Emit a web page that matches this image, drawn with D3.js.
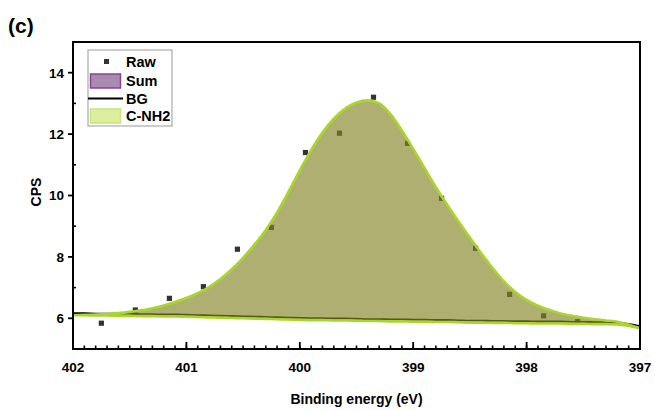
<!DOCTYPE html>
<html>
<head>
<meta charset="utf-8">
<script src="https://cdn.jsdelivr.net/npm/d3@7"></script>
<style>
  html, body { margin: 0; padding: 0; background: #fff; }
  svg { display: block; font-family: Arial, "Liberation Sans", sans-serif; }
</style>
</head>
<body>
<svg id="chart" width="655" height="410"></svg>
<script>
// N 1s spectrum: measured counts, fitted envelope and Shirley-type background
const rawEnergy = [401.75, 401.45, 401.15, 400.85, 400.55, 400.25, 399.95, 399.65,
                   399.35, 399.05, 398.75, 398.45, 398.15, 397.85, 397.55];
const rawCps    = [5.84, 6.27, 6.65, 7.03, 8.25, 8.96, 11.4, 12.03,
                   13.2, 11.7, 9.91, 8.28, 6.78, 6.08, 5.89];

const fitEnergy = [402.0, 401.9, 401.8, 401.7, 401.6, 401.5, 401.4, 401.3, 401.2, 401.1,
                   401.0, 400.9, 400.8, 400.7, 400.6, 400.5, 400.4, 400.3, 400.2, 400.1,
                   400.0, 399.9, 399.8, 399.7, 399.6, 399.5, 399.4, 399.3, 399.2, 399.1,
                   399.0, 398.9, 398.8, 398.7, 398.6, 398.5, 398.4, 398.3, 398.2, 398.1,
                   398.0, 397.9, 397.8, 397.7, 397.6, 397.5, 397.4, 397.3, 397.2, 397.0];
const sumCps    = [6.10, 6.11, 6.12, 6.14, 6.17, 6.21, 6.26, 6.33, 6.42, 6.53,
                   6.66, 6.82, 7.02, 7.28, 7.60, 7.97, 8.40, 8.88, 9.45, 10.12,
                   10.82, 11.48, 12.05, 12.50, 12.83, 13.03, 13.10, 13.00, 12.65, 12.12,
                   11.52, 10.90, 10.27, 9.70, 9.15, 8.63, 8.12, 7.64, 7.20, 6.86,
                   6.60, 6.41, 6.27, 6.16, 6.08, 6.02, 5.97, 5.93, 5.89, 5.68];
const bgCps     = [6.10, 6.10, 6.09, 6.09, 6.08, 6.08, 6.07, 6.07, 6.06, 6.06,
                   6.05, 6.04, 6.03, 6.02, 6.01, 6.00, 5.99, 5.98, 5.97, 5.96,
                   5.95, 5.94, 5.94, 5.93, 5.93, 5.92, 5.91, 5.91, 5.90, 5.90,
                   5.89, 5.89, 5.88, 5.88, 5.87, 5.86, 5.86, 5.85, 5.85, 5.84,
                   5.84, 5.83, 5.83, 5.83, 5.82, 5.82, 5.81, 5.81, 5.80, 5.68];
// single component, so the C-NH2 peak spans the same envelope as the sum
const cnh2Cps   = sumCps.slice();

const xTicks = [402, 401, 400, 399, 398, 397];
const yTicks = [6, 8, 10, 12, 14];
const legendItems = ["Raw", "Sum", "BG", "C-NH2"];

const svg = d3.select("#chart");
const plotL = 73, plotR = 640, plotT = 42, plotB = 349;

const x = d3.scaleLinear().domain([402, 397]).range([plotL, plotR]);
const y = d3.scaleLinear().domain([5, 15]).range([plotB, plotT]);

const fit = fitEnergy.map((e, i) => ({ e, sum: sumCps[i], bg: bgCps[i], comp: cnh2Cps[i] }));
const raw = rawEnergy.map((e, i) => ({ e, v: rawCps[i] }));

const curve = d3.curveMonotoneX;

// measured points sit under the translucent fit fill
svg.append("g").selectAll("rect").data(raw).join("rect")
  .attr("x", d => x(d.e) - 2.6).attr("y", d => y(d.v) - 2.6)
  .attr("width", 5.2).attr("height", 5.2)
  .attr("fill", "#333");

// background line
svg.append("path").datum(fit)
  .attr("d", d3.line().x(d => x(d.e)).y(d => y(d.bg)).curve(curve))
  .attr("transform", "translate(0,-2)")
  .attr("fill", "none").attr("stroke", "#000").attr("stroke-width", 1.8);

// sum envelope
svg.append("path").datum(fit)
  .attr("d", d3.area().x(d => x(d.e)).y0(d => y(d.bg)).y1(d => y(d.sum)).curve(curve))
  .attr("fill", "#9b6aa6").attr("fill-opacity", 0.15);

// C-NH2 component
const compArea = d3.area().x(d => x(d.e)).y0(d => y(d.bg)).y1(d => y(d.comp)).curve(curve);
svg.append("path").datum(fit)
  .attr("d", compArea)
  .attr("fill", "#85891d").attr("fill-opacity", 0.6);
svg.append("path").datum(fit)
  .attr("d", compArea)
  .attr("fill", "none").attr("stroke", "#a9d62c").attr("stroke-width", 2.6)
  .attr("stroke-linejoin", "round");

// frame
const frame = svg.append("g");
frame.append("rect")
  .attr("x", plotL).attr("y", plotT).attr("width", plotR - plotL).attr("height", plotB - plotT)
  .attr("fill", "none").attr("stroke", "#000").attr("stroke-width", 2);

// x axis: ticks point into the plot
const xMinor = d3.range(0, 51).map(i => 402 - i * 0.1);
frame.append("g").selectAll("line").data(xMinor).join("line")
  .attr("x1", d => x(d)).attr("x2", d => x(d))
  .attr("y1", plotB).attr("y2", plotB - 3.5)
  .attr("stroke", "#000").attr("stroke-width", 1.6);
frame.append("g").selectAll("line").data(xTicks).join("line")
  .attr("x1", d => x(d)).attr("x2", d => x(d))
  .attr("y1", plotB).attr("y2", plotB - 7)
  .attr("stroke", "#000").attr("stroke-width", 1.8);
frame.append("g").selectAll("text").data(xTicks).join("text")
  .attr("x", d => x(d)).attr("y", 372)
  .attr("text-anchor", "middle")
  .attr("font-size", 13.5).attr("font-weight", "bold")
  .text(d => d);

// y axis: major ticks outside, minor inside
frame.append("g").selectAll("line").data(yTicks).join("line")
  .attr("x1", plotL - 5).attr("x2", plotL)
  .attr("y1", d => y(d)).attr("y2", d => y(d))
  .attr("stroke", "#000").attr("stroke-width", 1.8);
frame.append("g").selectAll("line").data([7, 9, 11, 13]).join("line")
  .attr("x1", plotL).attr("x2", plotL + 3)
  .attr("y1", d => y(d)).attr("y2", d => y(d))
  .attr("stroke", "#000").attr("stroke-width", 1.6);
frame.append("g").selectAll("text").data(yTicks).join("text")
  .attr("x", plotL - 9).attr("y", d => y(d) + 4.8)
  .attr("text-anchor", "end")
  .attr("font-size", 13.5).attr("font-weight", "bold")
  .text(d => d);

// axis titles
svg.append("text")
  .attr("transform", "translate(41,192) rotate(-90)")
  .attr("text-anchor", "middle")
  .attr("font-size", 14).attr("font-weight", "bold")
  .text("CPS");
svg.append("text")
  .attr("x", (plotL + plotR) / 2).attr("y", 404)
  .attr("text-anchor", "middle")
  .attr("font-size", 14).attr("font-weight", "bold")
  .text("Binding energy (eV)");

// panel label
svg.append("text")
  .attr("x", 8).attr("y", 33)
  .attr("font-size", 21).attr("font-weight", "bold")
  .text("(c)");

// legend
const lg = svg.append("g").attr("transform", "translate(88,50)");
lg.append("rect").attr("x", 0).attr("y", 0).attr("width", 84).attr("height", 76)
  .attr("fill", "#fff").attr("stroke", "#999").attr("stroke-width", 1);
const rowY = [11.5, 31, 48.5, 66];
lg.append("rect").attr("x", 16).attr("y", rowY[0] - 2.5).attr("width", 5).attr("height", 5).attr("fill", "#333");
lg.append("rect").attr("x", 2.5).attr("y", rowY[1] - 7).attr("width", 30).attr("height", 14)
  .attr("fill", "#a98bb1").attr("stroke", "#8a4296").attr("stroke-width", 1.5);
lg.append("line").attr("x1", 0).attr("x2", 35).attr("y1", rowY[2]).attr("y2", rowY[2])
  .attr("stroke", "#000").attr("stroke-width", 2);
lg.append("rect").attr("x", 2.5).attr("y", rowY[3] - 7).attr("width", 30).attr("height", 14)
  .attr("fill", "#dcef9e").attr("stroke", "#c9e676").attr("stroke-width", 1.5);
lg.selectAll("text.lab").data(legendItems).join("text")
  .attr("class", "lab")
  .attr("x", 38).attr("y", (d, i) => rowY[i] + 5)
  .attr("font-size", 14.5).attr("font-weight", "bold")
  .text(d => d);
</script>
</body>
</html>
